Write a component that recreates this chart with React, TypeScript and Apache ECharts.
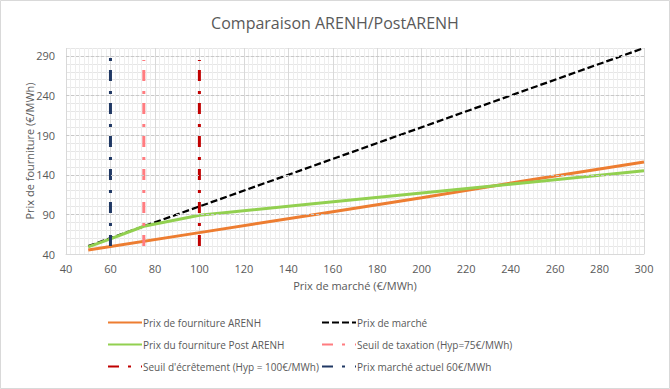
import React, { useEffect, useRef } from "react";
import * as echarts from "echarts";

// ---- data ----
const arenhX = [50, 100, 150, 200, 250, 300];
const arenhY = [45, 67, 89, 111, 134, 156];

const marketX = [50, 300];
const marketY = [50, 300];

const postX = [50, 60, 75, 100, 150, 200, 250, 300];
const postY = [49, 59, 75, 89, 103, 117, 131, 145];

const taxationX = [75, 75];
const taxationY = [50, 285];

const ecretementX = [100, 100];
const ecretementY = [50, 285];

const actuelX = [60, 60];
const actuelY = [50, 300];

const majorYTicks = [90, 140, 190, 240, 290];

const names = [
  "Prix de fourniture ARENH",
  "Prix de marché",
  "Prix du fourniture Post ARENH",
  "Seuil de taxation (Hyp=75€/MWh)",
  "Seuil d'écrêtement (Hyp = 100€/MWh)",
  "Prix marché actuel 60€/MWh",
];

const zip = (xs: number[], ys: number[]) => xs.map((x, i) => [x, ys[i]]);

const FONT = "Open Sans";
const TXT = "#595959";

export default function App() {
  const ref = useRef<HTMLDivElement>(null);
  useEffect(() => {
    document.body.style.margin = "0";
    const chart = echarts.init(ref.current!, null, { renderer: "svg" });
    const dashDot = [11, 9, 3, 10];
    const legendPos = [
      [107, 317],
      [321, 317],
      [107, 339],
      [321, 339],
      [107, 361],
      [321, 361],
    ];
    chart.setOption({
      animation: false,
      backgroundColor: "#fff",
      textStyle: { fontFamily: FONT },
      title: {
        text: "Comparaison ARENH/PostARENH",
        left: "center",
        top: 10,
        textStyle: { fontFamily: FONT, fontSize: 16, fontWeight: "normal", color: TXT },
      },
      grid: { left: 66, right: 26, top: 48, bottom: 135, containLabel: false },
      legend: legendPos.map((p, i) => ({
        data: [names[i]],
        left: p[0],
        top: p[1],
        padding: 0,
        itemWidth: 34,
        itemHeight: 14,
        selectedMode: false,
        itemStyle: { opacity: 0, borderWidth: 0 },
        textStyle: { fontFamily: FONT, fontSize: 10, color: TXT, padding: [0, 0, 0, -4] },
      })),
      xAxis: {
        type: "value",
        min: 40,
        max: 300,
        interval: 20,
        name: "Prix de marché (€/MWh)",
        nameLocation: "middle",
        nameGap: 26,
        nameMoveOverlap: false,
        nameTextStyle: { fontFamily: FONT, fontSize: 11, color: TXT },
        axisLine: { show: true, lineStyle: { color: "#d9d9d9" } },
        axisTick: { show: false },
        axisLabel: { fontFamily: FONT, fontSize: 11, color: TXT, margin: 9 },
        splitLine: { show: true, lineStyle: { color: "#d9d9d9", width: 1 } },
        minorTick: { show: false, splitNumber: 10 },
        minorSplitLine: { show: true, lineStyle: { color: "#eeeeee", width: 1 } },
      },
      yAxis: {
        type: "value",
        min: 40,
        max: 300,
        interval: 10,
        name: "Prix de fourniture (€/MWh)",
        nameLocation: "middle",
        nameGap: 31,
        nameMoveOverlap: false,
        nameTextStyle: { fontFamily: FONT, fontSize: 11, color: TXT },
        axisLine: { show: false },
        axisTick: { show: false },
        axisLabel: {
          fontFamily: FONT,
          fontSize: 11,
          color: TXT,
          margin: 11,
          formatter: (v: number) => ((v - 40) % 50 === 0 ? String(v) : ""),
        },
        splitLine: { show: true, lineStyle: { color: "#e6e6e6", width: 1 } },
      },
      series: [
        {
          type: "line",
          name: "__grid",
          data: [],
          silent: true,
          markLine: {
            silent: true,
            symbol: "none",
            label: { show: false },
            lineStyle: { color: "#c8c8c8", type: [3, 2], width: 1 },
            data: majorYTicks.map((v) => ({ yAxis: v })),
          },
        },
        {
          type: "line",
          name: names[0],
          data: zip(arenhX, arenhY),
          symbol: "none",
          color: "#ED7D31",
          lineStyle: { color: "#ED7D31", width: 3 },
        },
        {
          type: "line",
          name: names[1],
          data: zip(marketX, marketY),
          symbol: "none",
          color: "#000000",
          lineStyle: { color: "#000000", width: 2.25, type: [7, 3] },
        },
        {
          type: "line",
          name: names[2],
          data: zip(postX, postY),
          symbol: "none",
          color: "#92D050",
          lineStyle: { color: "#92D050", width: 3 },
        },
        {
          type: "line",
          name: names[3],
          data: zip(taxationX, taxationY),
          symbol: "none",
          color: "#FF7C80",
          lineStyle: { color: "#FF7C80", width: 3, type: dashDot },
        },
        {
          type: "line",
          name: names[4],
          data: zip(ecretementX, ecretementY),
          symbol: "none",
          color: "#C00000",
          lineStyle: { color: "#C00000", width: 3, type: dashDot },
        },
        {
          type: "line",
          name: names[5],
          data: zip(actuelX, actuelY),
          symbol: "none",
          color: "#203864",
          lineStyle: { color: "#203864", width: 3, type: dashDot },
        },
      ],
      graphic: [
        {
          type: "rect",
          shape: { x: 0.5, y: 0.5, width: 669, height: 388 },
          style: { fill: "none", stroke: "#d9d9d9", lineWidth: 1 },
          silent: true,
          z: 100,
        },
      ],
    });
    return () => chart.dispose();
  }, []);
  return <div ref={ref} style={{ width: 670, height: 389 }} />;
}
